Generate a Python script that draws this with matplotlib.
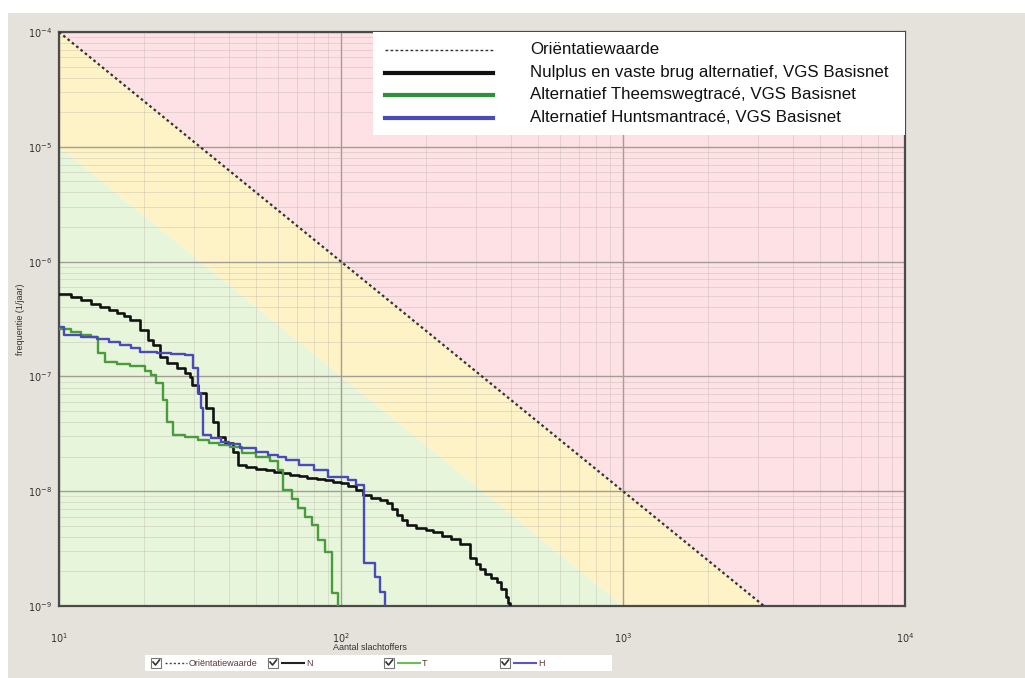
import matplotlib
matplotlib.use("Agg")
import matplotlib.pyplot as plt
from matplotlib.patches import Rectangle
from matplotlib.lines import Line2D
from matplotlib.ticker import LogLocator, NullFormatter, FixedLocator

plt.rcParams['font.family'] = ['Liberation Sans', 'DejaVu Sans']

# ---------------- data ----------------
X_TICKS = [10, 100, 1000, 10000]
X_TICK_LABELS = [r'$10^{1}$', r'$10^{2}$', r'$10^{3}$', r'$10^{4}$']
Y_TICKS = [1e-9, 1e-8, 1e-7, 1e-6, 1e-5, 1e-4]
Y_TICK_LABELS = [r'$10^{-9}$', r'$10^{-8}$', r'$10^{-7}$', r'$10^{-6}$', r'$10^{-5}$', r'$10^{-4}$']

ORIENT_N = [10, 3162.3]
ORIENT_F = [1e-4, 1e-9]
GREEN_LIM_N = [10, 1000]
GREEN_LIM_F = [1e-5, 1e-9]

BLACK_N = [10, 11, 12, 13, 14, 15, 16, 17, 17.9, 19.4,
           20.7, 21.5, 22.8, 24.1, 26.2, 28.0, 29.1, 29.6, 31.1, 33.3,
           35.2, 36.6, 38.9, 41.5, 43.1, 46, 50, 54, 58, 62,
           66, 71, 76, 82, 88, 94, 100, 106, 113, 120,
           128, 137, 145, 152, 158, 164, 171, 185, 200, 212,
           228, 245, 265, 286, 300, 312, 325, 340, 357, 370,
           385, 392, 398]
BLACK_F = [5.2e-7, 4.9e-7, 4.6e-7, 4.3e-7, 4.05e-7, 3.8e-7, 3.6e-7, 3.35e-7, 3.1e-7, 2.53e-7,
           2.07e-7, 1.88e-7, 1.48e-7, 1.31e-7, 1.18e-7, 1.07e-7, 9.9e-8, 8.4e-8, 7.2e-8, 5.3e-8,
           4.0e-8, 2.97e-8, 2.63e-8, 2.2e-8, 1.69e-8, 1.62e-8, 1.57e-8, 1.52e-8, 1.47e-8, 1.43e-8,
           1.39e-8, 1.35e-8, 1.31e-8, 1.28e-8, 1.24e-8, 1.21e-8, 1.17e-8, 1.1e-8, 1.02e-8, 9.3e-9,
           8.8e-9, 8.3e-9, 7.9e-9, 7.0e-9, 6.2e-9, 5.6e-9, 5.1e-9, 4.8e-9, 4.6e-9, 4.4e-9,
           4.1e-9, 3.8e-9, 3.5e-9, 2.6e-9, 2.3e-9, 2.1e-9, 1.9e-9, 1.75e-9, 1.62e-9, 1.4e-9,
           1.2e-9, 1.07e-9, 1e-12]

GREEN_N = [10, 11, 12, 13, 13.7, 14.6, 16, 17.9,
           20.2, 21.2, 22.1, 23.4, 24.1, 25.3, 28, 31,
           34, 37, 40.4, 44.4, 50, 56, 59.8, 62.2,
           67, 70.4, 74.5, 78.9, 82.8, 87.8, 92.9, 97.6]
GREEN_F = [2.6e-7, 2.45e-7, 2.3e-7, 2.2e-7, 1.6e-7, 1.33e-7, 1.28e-7, 1.23e-7,
           1.12e-7, 1.03e-7, 8.8e-8, 6.2e-8, 4.0e-8, 3.1e-8, 2.95e-8, 2.8e-8,
           2.65e-8, 2.55e-8, 2.43e-8, 2.15e-8, 2.0e-8, 1.82e-8, 1.53e-8, 1.02e-8,
           8.6e-9, 7.1e-9, 6.0e-9, 5.1e-9, 3.76e-9, 2.95e-9, 1.3e-9, 1e-12]

BLUE_N = [10, 10.4, 12, 13.6, 15, 16.5, 18, 19.4,
          22.3, 25, 28, 29.8, 31.1, 31.8, 32.4,
          34.5, 37.5, 40, 44, 50, 55, 60, 64,
          71, 80, 90, 106, 113, 121, 132, 137, 143]
BLUE_F = [2.69e-7, 2.3e-7, 2.2e-7, 2.13e-7, 2.0e-7, 1.88e-7, 1.75e-7, 1.63e-7,
          1.6e-7, 1.57e-7, 1.55e-7, 1.18e-7, 7.2e-8, 5.3e-8, 3.1e-8,
          2.9e-8, 2.7e-8, 2.6e-8, 2.38e-8, 2.2e-8, 2.07e-8, 1.99e-8, 1.87e-8,
          1.69e-8, 1.53e-8, 1.33e-8, 1.26e-8, 1.13e-8, 2.37e-9, 1.79e-9, 1.32e-9, 1e-12]

LEGEND_LABELS = ["Oriëntatiewaarde",
                 "Nulplus en vaste brug alternatief, VGS Basisnet",
                 "Alternatief Theemswegtracé, VGS Basisnet",
                 "Alternatief Huntsmantracé, VGS Basisnet"]
SHORT_LABELS = ["Oriëntatiewaarde", "N", "T", "H"]

C_BLACK = '#111111'
C_GREEN = '#4a9a3e'
C_BLUE = '#4a4ab8'
C_RED_BG = '#fde1e4'
C_YEL_BG = '#fdf3c6'
C_GRN_BG = '#e7f6db'
C_PANEL = '#e5e2dc'

W, H = 1025, 678
fig = plt.figure(figsize=(W / 100, H / 100), dpi=100)
fig.patch.set_facecolor('white')

def fx(px):
    return px / W

def fy(py):
    return 1 - py / H

# gray panel
fig.add_artist(Rectangle((fx(8), 0), 1 - fx(8), fy(13), transform=fig.transFigure,
                         facecolor=C_PANEL, edgecolor='none', zorder=-10))

ax = fig.add_axes([fx(59), fy(606), fx(905) - fx(59), fy(32) - fy(606)])
ax.set_xscale('log')
ax.set_yscale('log')
ax.set_xlim(10, 10000)
ax.set_ylim(1e-9, 1e-4)

# background regions
xmin, xmax = 10, 10000
ymin, ymax = 1e-9, 1e-4
ax.fill([ORIENT_N[0], ORIENT_N[1], xmax, xmax], [ORIENT_F[0], ORIENT_F[1], ymin, ymax],
        color=C_RED_BG, lw=0, zorder=0)
ax.fill([ORIENT_N[0], ORIENT_N[1], GREEN_LIM_N[1], GREEN_LIM_N[0]],
        [ORIENT_F[0], ORIENT_F[1], GREEN_LIM_F[1], GREEN_LIM_F[0]],
        color=C_YEL_BG, lw=0, zorder=0)
ax.fill([GREEN_LIM_N[0], GREEN_LIM_N[1], xmin], [GREEN_LIM_F[0], GREEN_LIM_F[1], ymin],
        color=C_GRN_BG, lw=0, zorder=0)

# grid
ax.xaxis.set_minor_locator(LogLocator(base=10, subs=range(2, 10)))
ax.yaxis.set_minor_locator(LogLocator(base=10, subs=range(2, 10)))
ax.xaxis.set_minor_formatter(NullFormatter())
ax.yaxis.set_minor_formatter(NullFormatter())
ax.grid(which='major', color='#a39d96', lw=1.0, zorder=1)
ax.grid(which='minor', color='#b8b0a8', lw=0.7, alpha=0.35, zorder=1)
ax.set_axisbelow(True)

ax.xaxis.set_major_locator(FixedLocator(X_TICKS))
ax.yaxis.set_major_locator(FixedLocator(Y_TICKS))
ax.set_xticklabels(X_TICK_LABELS)
ax.set_yticklabels(Y_TICK_LABELS)
ax.tick_params(which='both', length=0)
ax.tick_params(axis='x', pad=18, labelsize=7, labelcolor='#333333')
ax.tick_params(axis='y', pad=5, labelsize=7, labelcolor='#333333')

for s in ax.spines.values():
    s.set_color('#4a4a4a')
    s.set_linewidth(1.6)

# data
ax.plot(ORIENT_N, ORIENT_F, color='#333333', lw=1.6, ls=(0, (1.2, 1.3)), zorder=4)
ax.step(BLACK_N, BLACK_F, where='post', color=C_BLACK, lw=1.9, zorder=5)
ax.step(GREEN_N, GREEN_F, where='post', color=C_GREEN, lw=1.7, zorder=5)
ax.step(BLUE_N, BLUE_F, where='post', color=C_BLUE, lw=1.7, zorder=5)

ax.set_ylabel('frequentie (1/jaar)', fontsize=6.5, color='#333333', labelpad=2)
fig.text(fx(370), fy(648), 'Aantal slachtoffers', fontsize=6.5, color='#333333',
         ha='center', va='center')

# top legend box
fig.add_artist(Rectangle((fx(373), fy(135)), fx(905) - fx(373), fy(32) - fy(135),
                         transform=fig.transFigure, facecolor='white', edgecolor='none', zorder=6))
leg_y = [50, 73, 95, 118]
leg_styles = [dict(color='#333333', lw=1.0, ls=(0, (2, 1.6))),
              dict(color=C_BLACK, lw=3.0),
              dict(color='#2f8f3a', lw=3.0),
              dict(color=C_BLUE, lw=3.0)]
for yy, lab, st in zip(leg_y, LEGEND_LABELS, leg_styles):
    fig.add_artist(Line2D([fx(385), fx(493)], [fy(yy), fy(yy)], transform=fig.transFigure,
                          zorder=7, **st))
    fig.text(fx(530), fy(yy), lab, fontsize=12.2, color='#111111', ha='left', va='center',
             zorder=7)

# bottom legend strip
fig.add_artist(Rectangle((fx(145), fy(671)), fx(612) - fx(145), fy(655) - fy(671),
                         transform=fig.transFigure, facecolor='white', edgecolor='none', zorder=6))
cb_x = [151, 268, 384, 500]
bot_styles = [dict(color='#444444', lw=1.0, ls=(0, (1.5, 1.5))),
              dict(color='#222222', lw=1.5),
              dict(color='#6cbf4f', lw=1.5),
              dict(color='#5a55c8', lw=1.5)]
yb = 663
for cx, lab, st in zip(cb_x, SHORT_LABELS, bot_styles):
    fig.add_artist(Rectangle((fx(cx), fy(yb + 5)), fx(10), fy(0) - fy(10),
                             transform=fig.transFigure, facecolor='white',
                             edgecolor='#777777', lw=0.8, zorder=7))
    fig.add_artist(Line2D([fx(cx + 2), fx(cx + 4.5), fx(cx + 8.5)],
                          [fy(yb - 1), fy(yb + 2), fy(yb - 3)],
                          transform=fig.transFigure, color='#333333', lw=1.2, zorder=8))
    fig.add_artist(Line2D([fx(cx + 14), fx(cx + 36)], [fy(yb), fy(yb)],
                          transform=fig.transFigure, zorder=7, **st))
    fig.text(fx(cx + 38), fy(yb), lab, fontsize=6.5, color='#5a3a3a', ha='left',
             va='center', zorder=8)

fig.savefig('out.png', dpi=100, facecolor=fig.get_facecolor())
